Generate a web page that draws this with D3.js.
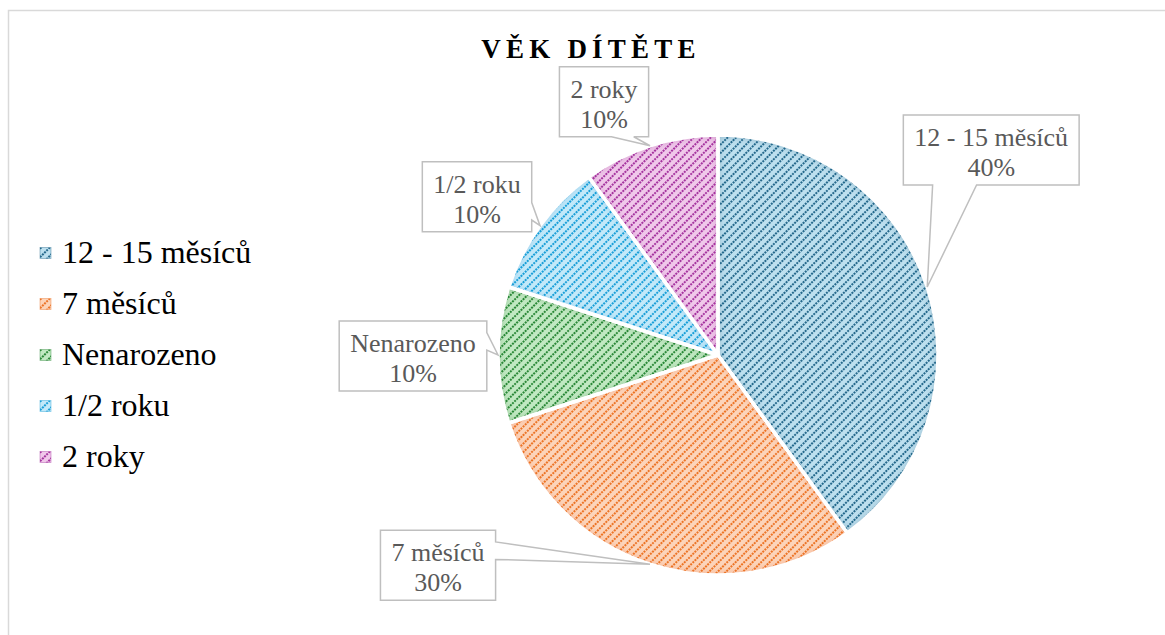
<!DOCTYPE html>
<html>
<head>
<meta charset="utf-8">
<script src="https://cdn.jsdelivr.net/npm/d3@7"></script>
<style>
  html, body { margin: 0; padding: 0; background: #fff; }
  svg { display: block; }
  svg text { font-family: "Liberation Serif", "Times New Roman", Tinos, "DejaVu Serif", serif; }
</style>
</head>
<body>
<svg id="chart" width="1165" height="635"></svg>
<script>
// data
var categories = ["12 - 15 měsíců", "7 měsíců", "Nenarozeno", "1/2 roku", "2 roky"];
var values = [40, 30, 10, 10, 10];
var percentLabels = ["40%", "30%", "10%", "10%", "10%"];
var title = "VĚK DÍTĚTE";

// look
var fgColors = ["#26698c", "#ec7428", "#2b8838", "#1a9fd8", "#a5359f"];
var bgColors = ["#bde0ef", "#fcd4ba", "#c1e9c2", "#c3e9f9", "#f0c8ea"];
// where each callout box sits, relative to the point of its leader on the pie edge
var calloutShift = [[64, -137], [-212, 1], [-85, 1], [-63, -29], [-46, -44]];

var cx = 718, cy = 355, radius = 220;
var serif = "'Liberation Serif', 'Times New Roman', Tinos, 'DejaVu Serif', serif";

var svg = d3.select("#chart");
var defs = svg.append("defs");

categories.forEach(function (c, i) {
	var pat = defs.append("pattern")
		.attr("id", "pat" + i)
		.attr("patternUnits", "userSpaceOnUse")
		.attr("width", 6).attr("height", 6)
		.attr("patternTransform", "rotate(-45)");
	pat.append("rect").attr("width", 6).attr("height", 6).attr("fill", bgColors[i]);
	pat.append("line")
		.attr("x1", 0).attr("y1", 3).attr("x2", 6).attr("y2", 3)
		.attr("stroke", fgColors[i]).attr("stroke-width", 1.9)
		.attr("stroke-dasharray", "2,1");

	// soft inner edge like the office "inner shadow"
	var f = defs.append("filter").attr("id", "inner" + i)
		.attr("x", "-10%").attr("y", "-10%").attr("width", "120%").attr("height", "120%");
	f.append("feFlood").attr("flood-color", fgColors[i]).attr("flood-opacity", 0.6);
	f.append("feComposite").attr("in2", "SourceAlpha").attr("operator", "out");
	f.append("feGaussianBlur").attr("stdDeviation", 4).attr("result", "sh");
	f.append("feComposite").attr("in", "sh").attr("in2", "SourceAlpha").attr("operator", "in").attr("result", "shin");
	var m = f.append("feMerge");
	m.append("feMergeNode").attr("in", "SourceGraphic");
	m.append("feMergeNode").attr("in", "shin");
});

// chart frame
svg.append("rect")
	.attr("x", 8.5).attr("y", 10.5)
	.attr("width", 2000).attr("height", 2000)
	.attr("fill", "none").attr("stroke", "#d9d9d9").attr("stroke-width", 1.5);

// title
svg.append("text")
	.attr("x", 591).attr("y", 58)
	.attr("text-anchor", "middle")
	.attr("font-family", serif)
	.attr("font-size", 27).attr("font-weight", "bold")
	.attr("letter-spacing", 5.2)
	.attr("fill", "#000")
	.text(title);

// pie
var pie = d3.pie().sort(null).value(function (d) { return d; });
var arcs = pie(values);
var arc = d3.arc().innerRadius(0).outerRadius(radius);

var gPie = svg.append("g").attr("transform", "translate(" + cx + "," + cy + ")");
gPie.selectAll("path.slice").data(arcs).enter()
	.append("path")
	.attr("class", "slice")
	.attr("d", arc)
	.attr("fill", function (d, i) { return "url(#pat" + i + ")"; })
	.attr("filter", function (d, i) { return "url(#inner" + i + ")"; });
gPie.selectAll("path.sep").data(arcs).enter()
	.append("path")
	.attr("class", "sep")
	.attr("d", arc)
	.attr("fill", "none")
	.attr("stroke", "#fff").attr("stroke-width", 3.5)
	.attr("stroke-linejoin", "round");

// callouts (wedge rect callout geometry)
var gLab = svg.append("g");
arcs.forEach(function (d, i) {
	var mid = (d.startAngle + d.endAngle) / 2;
	var tx = cx + radius * Math.sin(mid), ty = cy - radius * Math.cos(mid);
	var bx = tx + calloutShift[i][0], by = ty + calloutShift[i][1];

	var g = gLab.append("g");
	var t = g.append("text")
		.attr("text-anchor", "middle")
		.attr("font-family", serif)
		.attr("font-size", 26)
		.attr("fill", "#595959");
	t.append("tspan").attr("x", bx).attr("y", by - 4).text(categories[i]);
	t.append("tspan").attr("x", bx).attr("y", by + 26).text(percentLabels[i]);

	var tw = t.node().getBBox().width;
	var w = tw + 22, h = 70;
	var x0 = bx - w / 2, y0 = by - h / 2, x1 = x0 + w, y1 = y0 + h;
	var dx = tx - bx, dy = ty - by;
	var pts;
	if (Math.abs(dy) > Math.abs(dx * h / w)) {
		var a1 = dx > 0 ? 7 : 2, a2 = dx > 0 ? 10 : 5;
		var xa = x0 + w * a1 / 12, xb = x0 + w * a2 / 12;
		if (dy > 0) {
			pts = [[x0, y0], [x1, y0], [x1, y1], [xb, y1], [tx, ty], [xa, y1], [x0, y1]];
		} else {
			pts = [[x0, y0], [xa, y0], [tx, ty], [xb, y0], [x1, y0], [x1, y1], [x0, y1]];
		}
	} else {
		var b1 = dy > 0 ? 7 : 2, b2 = dy > 0 ? 10 : 5;
		var ya = y0 + h * b1 / 12, yb = y0 + h * b2 / 12;
		if (dx > 0) {
			pts = [[x0, y0], [x1, y0], [x1, ya], [tx, ty], [x1, yb], [x1, y1], [x0, y1]];
		} else {
			pts = [[x0, y0], [x1, y0], [x1, y1], [x0, y1], [x0, yb], [tx, ty], [x0, ya]];
		}
	}
	g.insert("path", "text")
		.attr("d", d3.line()(pts) + "Z")
		.attr("fill", "#fff")
		.attr("stroke", "#bfbfbf").attr("stroke-width", 1.5);
});

// legend
var legend = svg.append("g").attr("transform", "translate(40,253)");
var rows = legend.selectAll("g").data(categories).enter()
	.append("g")
	.attr("transform", function (d, i) { return "translate(0," + (i * 51) + ")"; });
rows.append("rect")
	.attr("x", 0).attr("y", -5.5).attr("width", 11).attr("height", 11)
	.attr("fill", function (d, i) { return "url(#pat" + i + ")"; })
	.attr("stroke", function (d, i) { return fgColors[i]; })
	.attr("stroke-opacity", 0.5).attr("stroke-width", 0.8);
rows.append("text")
	.attr("x", 22).attr("y", 10)
	.attr("font-family", serif)
	.attr("font-size", 32)
	.attr("fill", "#000")
	.text(function (d) { return d; });
</script>
</body>
</html>
